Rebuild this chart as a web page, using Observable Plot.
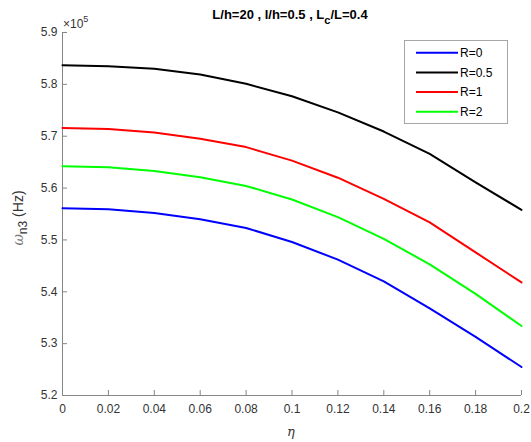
<!DOCTYPE html>
<html><head><meta charset="utf-8">
<script src="https://cdn.jsdelivr.net/npm/d3@7"></script>
<script src="https://cdn.jsdelivr.net/npm/@observablehq/plot@0.6"></script>
<style>body{margin:0;background:#fff} svg{display:block}</style>
</head><body><div id="chart"></div>
<script>
const eta = [0, 0.02, 0.04, 0.06, 0.08, 0.1, 0.12, 0.14, 0.16, 0.18, 0.2];
const seriesNames = ["R=0", "R=0.5", "R=1", "R=2"];
const seriesColors = ["#0000ff", "#000000", "#ff0000", "#00ff00"];
// omega_n3 values in units of 1e5 Hz
const R0  = [5.561, 5.559, 5.552, 5.540, 5.523, 5.496, 5.462, 5.420, 5.368, 5.313, 5.255];
const R05 = [5.837, 5.835, 5.830, 5.819, 5.801, 5.777, 5.746, 5.709, 5.666, 5.611, 5.558];
const R1  = [5.716, 5.714, 5.707, 5.695, 5.679, 5.653, 5.620, 5.579, 5.534, 5.476, 5.418];
const R2  = [5.642, 5.640, 5.633, 5.621, 5.604, 5.578, 5.544, 5.502, 5.453, 5.396, 5.334];
const xTicks = [0, 0.02, 0.04, 0.06, 0.08, 0.1, 0.12, 0.14, 0.16, 0.18, 0.2];
const xTickLabels = ["0", "0.02", "0.04", "0.06", "0.08", "0.1", "0.12", "0.14", "0.16", "0.18", "0.2"];
const yTicks = [5.2, 5.3, 5.4, 5.5, 5.6, 5.7, 5.8, 5.9];
const yTickLabels = ["5.2", "5.3", "5.4", "5.5", "5.6", "5.7", "5.8", "5.9"];

const allSeries = [R0, R05, R1, R2];
const rows = [];
allSeries.forEach((vals, i) => vals.forEach((v, j) => rows.push({eta: eta[j], w: v, s: seriesNames[i]})));

const font = "'Liberation Sans', Arial, sans-serif";
const axisGray = "#868686";
const textGray = "#333333";

const plot = Plot.plot({
  width: 531, height: 442,
  marginLeft: 62, marginRight: 10, marginTop: 32, marginBottom: 47,
  style: {fontFamily: font, fontSize: "12px", color: textGray, background: "#fff"},
  x: {domain: [0, 0.2]},
  y: {domain: [5.2, 5.9]},
  color: {domain: seriesNames, range: seriesColors},
  marks: [
    Plot.ruleX([0], {stroke: axisGray, strokeWidth: 1}),
    Plot.ruleY([5.2], {stroke: axisGray, strokeWidth: 1}),
    Plot.axisX(xTicks, {tickSize: -5, tickPadding: 14, stroke: axisGray, fill: textGray, tickFormat: d => xTickLabels[xTicks.indexOf(d)], label: null}),
    Plot.axisY(yTicks, {tickSize: -5, tickPadding: 10, stroke: axisGray, fill: textGray, tickFormat: d => yTickLabels[yTicks.indexOf(d)], label: null}),
    Plot.line(rows, {x: "eta", y: "w", stroke: "s", z: "s", strokeWidth: 2})
  ]
});
document.getElementById("chart").appendChild(plot);

const svg = d3.select(plot);
// title
const title = svg.append("text").attr("x", 290).attr("y", 19).attr("text-anchor", "middle")
  .attr("font-family", font).attr("font-size", 13).attr("font-weight", "bold").attr("fill", "#000");
title.append("tspan").text("L/h=20 , l/h=0.5 , L");
title.append("tspan").attr("dy", 5).attr("font-size", 11).text("c");
title.append("tspan").attr("dy", -5).text("/L=0.4");

// exponent
const ex = svg.append("text").attr("x", 63).attr("y", 28).attr("text-anchor", "start")
  .attr("font-family", font).attr("font-size", 12).attr("fill", textGray);
ex.append("tspan").text("×10");
ex.append("tspan").attr("dy", -6).attr("font-size", 9).text("5");

// y label
const yl = svg.append("text").attr("transform", "translate(23,218) rotate(-90)").attr("text-anchor", "middle")
  .attr("font-family", font).attr("font-size", 14).attr("fill", textGray);
yl.append("tspan").attr("font-style", "italic").attr("font-family", "'DejaVu Serif', serif").attr("fill", "#777").text("ω");
yl.append("tspan").attr("dy", 4).attr("font-size", 12).text("n3");
yl.append("tspan").attr("dy", -4).text(" (Hz)");

// x label
svg.append("text").attr("x", 291).attr("y", 436).attr("text-anchor", "middle")
  .attr("font-family", "'DejaVu Serif', serif").attr("font-style", "italic").attr("font-size", 13).attr("fill", textGray).text("η");

// legend
const lg = svg.append("g");
lg.append("rect").attr("x", 404.5).attr("y", 40.5).attr("width", 103).attr("height", 83)
  .attr("fill", "#fff").attr("stroke", "#a6a6a6");
seriesNames.forEach((name, i) => {
  const y = 52.7 + 19.7 * i;
  lg.append("line").attr("x1", 416).attr("x2", 458).attr("y1", y).attr("y2", y)
    .attr("stroke", seriesColors[i]).attr("stroke-width", 2);
  lg.append("text").attr("x", 460).attr("y", y).attr("dy", "0.35em").attr("text-anchor", "start")
    .attr("font-family", font).attr("font-size", 12).attr("fill", "#000").text(name);
});
</script>
</body></html>
